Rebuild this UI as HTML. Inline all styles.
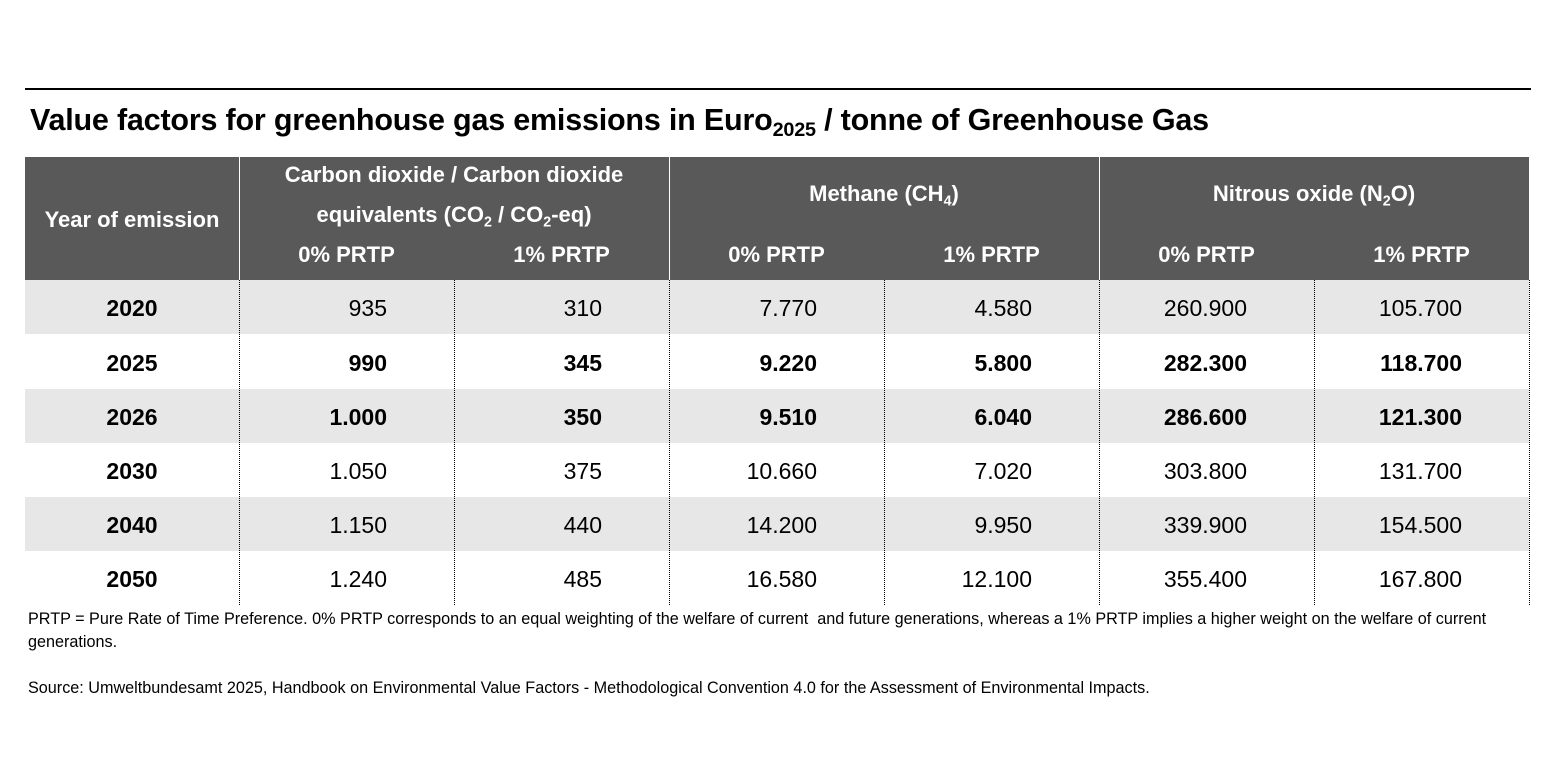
<!DOCTYPE html>
<html><head><meta charset="utf-8"><style>
body{margin:0;width:1545px;height:775px;background:#fff;position:relative;font-family:"Liberation Sans",Arial,sans-serif;overflow:hidden}
.a{position:absolute;white-space:nowrap}
.hd{color:#fff;font-weight:bold;font-size:22px;text-align:center}
.row{position:absolute;left:25px;width:1504px;height:54px}
.c{position:absolute;top:0;height:54px;line-height:56px;font-size:23px;color:#000}
.y{left:0;width:214px;text-align:center;font-weight:bold}
.v{width:148px;text-align:right}
.b{font-weight:bold}
.dl{position:absolute;top:280px;height:325px;border-left:1px dotted #000}
sub{font-size:0.65em;vertical-align:-0.3em;line-height:0}
.ft{font-size:16.2px;color:#000}
</style></head><body>
<div class="a" style="left:25px;top:88px;width:1506px;height:2px;background:#000"></div>
<div class="a" style="left:30px;top:103px;font-size:30.5px;font-weight:bold;letter-spacing:-0.2px">Value factors for greenhouse gas emissions in Euro<sub>2025</sub> / tonne of Greenhouse Gas</div>
<div class="a" style="left:25px;top:157px;width:1504px;height:123px;background:#595959"></div>
<div class="a" style="left:239px;top:157px;width:1px;height:123px;background:#fff"></div>
<div class="a" style="left:669px;top:157px;width:1px;height:123px;background:#fff"></div>
<div class="a" style="left:1099px;top:157px;width:1px;height:123px;background:#fff"></div>
<div class="a hd" style="left:25px;width:214px;top:207px">Year of emission</div>
<div class="a hd" style="left:239px;width:430px;top:155px;line-height:40px">Carbon dioxide / Carbon dioxide<br>equivalents (CO<sub>2</sub> / CO<sub>2</sub>-eq)</div>
<div class="a hd" style="left:669px;width:430px;top:181px">Methane (CH<sub>4</sub>)</div>
<div class="a hd" style="left:1099px;width:430px;top:181px">Nitrous oxide (N<sub>2</sub>O)</div>
<div class="a hd" style="left:239px;width:215px;top:242px">0% PRTP</div>
<div class="a hd" style="left:454px;width:215px;top:242px">1% PRTP</div>
<div class="a hd" style="left:669px;width:215px;top:242px">0% PRTP</div>
<div class="a hd" style="left:884px;width:215px;top:242px">1% PRTP</div>
<div class="a hd" style="left:1099px;width:215px;top:242px">0% PRTP</div>
<div class="a hd" style="left:1314px;width:215px;top:242px">1% PRTP</div>

<div class="row" style="top:280px;background:#e7e7e7"><div class="c y">2020</div><div class="c v" style="left:214px">935</div><div class="c v" style="left:429px">310</div><div class="c v" style="left:644px">7.770</div><div class="c v" style="left:859px">4.580</div><div class="c v" style="left:1074px">260.900</div><div class="c v" style="left:1289px">105.700</div></div>
<div class="row b" style="top:335px"><div class="c y">2025</div><div class="c v b" style="left:214px">990</div><div class="c v b" style="left:429px">345</div><div class="c v b" style="left:644px">9.220</div><div class="c v b" style="left:859px">5.800</div><div class="c v b" style="left:1074px">282.300</div><div class="c v b" style="left:1289px">118.700</div></div>
<div class="row" style="top:389px;background:#e7e7e7"><div class="c y">2026</div><div class="c v b" style="left:214px">1.000</div><div class="c v b" style="left:429px">350</div><div class="c v b" style="left:644px">9.510</div><div class="c v b" style="left:859px">6.040</div><div class="c v b" style="left:1074px">286.600</div><div class="c v b" style="left:1289px">121.300</div></div>
<div class="row" style="top:443px"><div class="c y">2030</div><div class="c v" style="left:214px">1.050</div><div class="c v" style="left:429px">375</div><div class="c v" style="left:644px">10.660</div><div class="c v" style="left:859px">7.020</div><div class="c v" style="left:1074px">303.800</div><div class="c v" style="left:1289px">131.700</div></div>
<div class="row" style="top:497px;background:#e7e7e7"><div class="c y">2040</div><div class="c v" style="left:214px">1.150</div><div class="c v" style="left:429px">440</div><div class="c v" style="left:644px">14.200</div><div class="c v" style="left:859px">9.950</div><div class="c v" style="left:1074px">339.900</div><div class="c v" style="left:1289px">154.500</div></div>
<div class="row" style="top:551px"><div class="c y">2050</div><div class="c v" style="left:214px">1.240</div><div class="c v" style="left:429px">485</div><div class="c v" style="left:644px">16.580</div><div class="c v" style="left:859px">12.100</div><div class="c v" style="left:1074px">355.400</div><div class="c v" style="left:1289px">167.800</div></div>

<div class="dl" style="left:239px"></div><div class="dl" style="left:454px"></div><div class="dl" style="left:669px"></div><div class="dl" style="left:884px"></div><div class="dl" style="left:1099px"></div><div class="dl" style="left:1314px"></div><div class="dl" style="left:1529px"></div>

<div class="a ft" style="left:28px;top:610px">PRTP = Pure Rate of Time Preference. 0% PRTP corresponds to an equal weighting of the welfare of current&nbsp; and future generations, whereas a 1% PRTP implies a higher weight on the welfare of current</div>
<div class="a ft" style="left:28px;top:633px">generations.</div>
<div class="a ft" style="left:28px;top:679px">Source: Umweltbundesamt 2025, Handbook on Environmental Value Factors - Methodological Convention 4.0 for the Assessment of Environmental Impacts.</div>
</body></html>
